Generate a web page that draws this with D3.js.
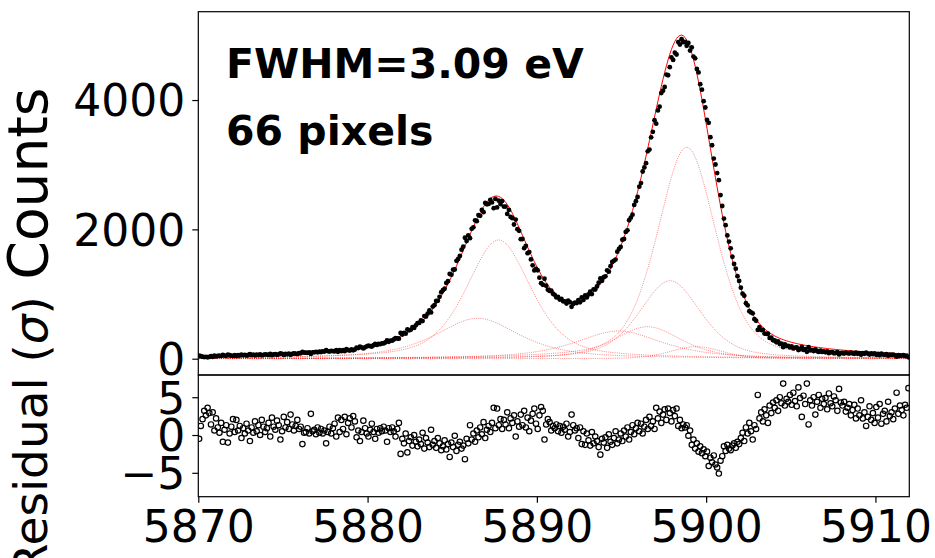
<!DOCTYPE html>
<html>
<head>
<meta charset="utf-8">
<script src="https://cdn.jsdelivr.net/npm/d3@7"></script>
<style>
  html, body { margin: 0; padding: 0; background: #fff; }
  svg { display: block; }
  text { font-family: "DejaVu Sans", sans-serif; fill: #000; }
</style>
</head>
<body>
<svg id="chart" width="935" height="558"></svg>
<script>
// Mn K-alpha line fit: seven Lorentzian components convolved with a Gaussian detector response
const gaussFWHM = 3.09;
const compCenter = [5898.853, 5897.867, 5894.829, 5896.532, 5899.417, 5887.743, 5886.495];
const compLorentzFWHM = [1.715, 2.043, 4.499, 2.663, 0.969, 2.361, 4.216];
const compHeight = [3270, 1205, 428, 495, 186, 1835, 625];

// Energy bins (eV): 0.1 eV wide, first bin centre and count
const binStart = 5870.05;
const binWidth = 0.1;
const binCount = 420;

// Normalised residuals, (model - counts) / sigma, one row per eV
const residuals = [
  -0.5, 1.2, 2.1, 3.2, 2.6, 3.6, 2.9, 1.4, 3.0, 0.6,
  2.2, 1.0, 0.3, 1.6, -0.9, 0.7, 1.3, -1.0, 0.2, 1.1,
  2.1, 0.4, 2.0, 0.6, 1.2, -0.4, 0.9, 0.2, 1.5, 0.6,
  -0.8, 1.0, 0.3, 1.8, 0.5, 1.3, 0.0, 2.0, 1.1, 0.4,
  0.9, 1.6, -0.2, 2.3, 1.1, 0.7, 1.9, 1.3, -0.6, 0.5,
  2.4, 1.0, 1.7, 0.8, 2.7, 1.4, 0.6, 1.2, 2.0, 0.8,
  1.1, -1.2, 0.3, 0.4, 0.9, 0.2, 2.8, 0.5, 0.7, 0.1,
  1.0, 0.3, 0.8, 0.2, 0.6, -1.1, 0.4, 1.1, 0.2, 0.9,
  1.5, -0.2, 2.3, 0.4, 2.0, 0.8, 2.4, 0.1, 1.6, 2.2,
  1.0, 2.5, 1.8, -0.3, 0.6, -0.8, 0.4, 1.9, 0.9, 0.2,
  -0.2, 0.7, 1.5, 0.4, -0.5, 0.8, 0.3, 0.9, 0.5, 1.1,
  0.6, -0.9, 0.9, 0.4, 1.0, 0.5, -0.2, 0.8, 1.6, -2.5,
  -0.5, -1.1, 0.2, -2.3, -0.8, -0.3, -1.4, 0.0, -0.9, -1.5,
  -0.6, -1.2, 0.3, -1.8, -0.4, -1.0, -1.6, 0.7, -1.3, -0.8,
  -1.7, -0.4, -1.1, -2.0, -1.5, -0.7, -1.9, -1.2, -2.9, -1.0,
  -1.6, -0.1, -2.1, -1.3, -0.9, -1.8, -1.4, -3.2, -0.5, -1.1,
  1.3, -0.6, 0.2, -0.9, 0.6, -0.3, 1.0, 0.1, 1.7, -0.4,
  0.7, 1.2, 0.4, 1.6, 3.6, 0.9, 3.5, 1.3, 2.1, 0.8,
  2.0, 1.4, 3.0, 0.9, 2.2, 1.6, 2.6, -0.2, 1.8, 1.1,
  2.7, 1.3, 3.2, 1.0, 2.3, 0.5, 1.9, 2.8, 3.5, 1.5,
  0.8, 2.6, 3.7, 3.2, -0.6, 1.4, 2.1, 1.7, 0.6, 1.2,
  0.9, 1.4, 0.5, 1.2, 0.3, 1.1, 0.7, 1.5, -0.2, 0.4,
  2.7, 1.3, 0.6, 0.9, -0.4, 1.0, -1.2, 0.5, -1.3, 0.2,
  -0.7, -1.4, 0.4, -1.1, -0.2, -0.8, -1.6, -2.6, -0.5, -1.0,
  -0.3, -1.7, 0.1, -0.9, -1.3, -0.4, 0.5, -1.1, -0.6, 0.2,
  -0.8, 0.6, -0.2, 1.0, -0.6, 0.4, 1.3, 0.1, 0.9, 1.6,
  0.5, 1.5, 0.2, 1.1, 2.0, 0.8, 2.4, 1.2, 1.8, 0.8,
  3.6, 2.2, 3.1, 1.6, 2.7, 3.4, 2.0, 3.5, 2.9, 1.8,
  3.3, 2.5, 3.5, 1.2, 2.0, 0.9, 1.4, 1.0, 1.3, -0.1,
  0.6, -1.3, -0.6, -1.8, -1.1, -2.2, -1.5, -2.4, -1.9, -2.8,
  -2.2, -4.1, -3.0, -3.6, -2.7, -3.9, -4.3, -5.1, -3.4, -2.8,
  -1.5, -2.1, -1.3, -1.8, -2.0, -1.4, -1.1, -1.7, -0.9, -1.2,
  -0.4, 0.3, -0.8, 1.0, 0.2, 1.6, 0.5, -0.6, 1.3, 0.8,
  5.3, 2.2, 3.0, 1.8, 3.4, 2.6, 1.6, 3.9, 2.9, 4.3,
  3.6, 4.6, 3.2, 5.0, 4.2, 6.8, 3.9, 4.8, 4.4, 5.3,
  4.0, 5.6, 4.5, 3.8, 6.3, 4.9, 2.4, 5.2, 4.1, 6.8,
  1.4, 4.6, 3.9, 5.0, 2.7, 4.4, 5.3, 3.6, 4.8, 4.1,
  4.9, 3.4, 5.5, 4.2, 3.8, 5.1, 4.6, 3.2, 6.1, 4.3,
  3.9, 4.4, 3.1, 3.6, 4.1, 2.6, 3.3, 4.0, 2.2, 3.5,
  2.6, 4.6, 2.2, 3.0, 1.2, 2.4, 3.8, 2.0, 2.9, 1.6,
  3.7, 2.3, 4.1, 1.5, 2.8, 3.2, 1.8, 4.4, 2.5, 3.0,
  2.1, 3.5, 5.6, 2.8, 3.9, 3.3, 2.6, 4.0, 3.6, 6.2
];

const xTicks = [5870, 5880, 5890, 5900, 5910];
const countTicks = [0, 2000, 4000];
const residTicks = [-5, 0, 5];
const annotation = ["FWHM=3.09 eV", "66 pixels"];

// ---- line-shape model (Thompson-Cox-Hastings pseudo-Voigt, unit peak height)
function voigtUnit(dx, fL, fG) {
  const f = Math.pow(
    Math.pow(fG, 5) + 2.69269 * Math.pow(fG, 4) * fL + 2.42843 * Math.pow(fG, 3) * fL * fL +
    4.47163 * fG * fG * Math.pow(fL, 3) + 0.07842 * fG * Math.pow(fL, 4) + Math.pow(fL, 5), 0.2);
  const r = fL / f;
  const eta = 1.36603 * r - 0.47719 * r * r + 0.11116 * r * r * r;
  const lor = x => (f / 2) / Math.PI / (x * x + (f / 2) * (f / 2));
  const gau = x => Math.sqrt(4 * Math.LN2 / Math.PI) / f * Math.exp(-4 * Math.LN2 * x * x / (f * f));
  const pv = x => eta * lor(x) + (1 - eta) * gau(x);
  return pv(dx) / pv(0);
}
const component = (k, e) => compHeight[k] * voigtUnit(e - compCenter[k], compLorentzFWHM[k], gaussFWHM);
const modelAt = e => d3.sum(compCenter, (c, k) => component(k, e));

// counts recovered from the model and the normalised residual of each bin
const energies = d3.range(binCount).map(i => binStart + i * binWidth);
const points = energies.map((e, i) => {
  const m = modelAt(e);
  return { e, model: m, resid: residuals[i], counts: m - residuals[i] * Math.sqrt(m) };
});

// ---- layout
const svg = d3.select("#chart");
const left = 198.3, right = 909.3;
const topY0 = 11.7, topY1 = 375, resY0 = 375, resY1 = 496.7;

const x = d3.scaleLinear().domain([5870, 5912]).range([left, right]);
const yC = d3.scaleLinear().domain([-252, 5366]).range([topY1, topY0]);
const yR = d3.scaleLinear().domain([-8.16, 7.94]).range([resY1, resY0]);

const defs = svg.append("defs");
defs.append("clipPath").attr("id", "clipTop").append("rect")
  .attr("x", left).attr("y", topY0).attr("width", right - left).attr("height", topY1 - topY0);
defs.append("clipPath").attr("id", "clipRes").append("rect")
  .attr("x", left).attr("y", resY0).attr("width", right - left).attr("height", resY1 - resY0);

// ---- upper panel
const gTop = svg.append("g").attr("clip-path", "url(#clipTop)");
const compLine = k => d3.line().x(e => x(e)).y(e => yC(component(k, e)));
const fine = d3.range(5869, 5913.01, 0.05);
compCenter.forEach((c, k) => {
  gTop.append("path").datum(fine).attr("d", compLine(k))
    .attr("fill", "none").attr("stroke", "rgba(255,0,0,0.55)")
    .attr("stroke-width", 0.9).attr("stroke-dasharray", "1,1.2");
});
gTop.append("path").datum(points)
  .attr("d", d3.line().x(d => x(d.e)).y(d => yC(d.model)))
  .attr("fill", "none").attr("stroke", "#ff0000").attr("stroke-width", 1);
gTop.selectAll("circle.data").data(points).join("circle")
  .attr("class", "data").attr("cx", d => x(d.e)).attr("cy", d => yC(d.counts))
  .attr("r", 2.4).attr("fill", "#000");

// ---- residual panel
const gRes = svg.append("g").attr("clip-path", "url(#clipRes)");
gRes.selectAll("circle").data(points).join("circle")
  .attr("cx", d => x(d.e)).attr("cy", d => yR(d.resid))
  .attr("r", 2.7).attr("fill", "none").attr("stroke", "#000").attr("stroke-width", 1.2);

// ---- frames
[[topY0, topY1], [resY0, resY1]].forEach(([a, b]) => {
  svg.append("rect").attr("x", left).attr("y", a).attr("width", right - left).attr("height", b - a)
    .attr("fill", "none").attr("stroke", "#000").attr("stroke-width", 1.2);
});

// ---- axes
const tickFont = 44;
const styleAxis = g => {
  g.select(".domain").remove();
  g.selectAll(".tick line").attr("stroke", "#000").attr("stroke-width", 1.2);
  g.selectAll(".tick text").attr("font-size", tickFont).attr("font-family", "DejaVu Sans");
};
svg.append("g").attr("transform", `translate(${left},0)`)
  .call(d3.axisLeft(yC).tickValues(countTicks).tickSize(6).tickPadding(7).tickFormat(d3.format("d")))
  .call(styleAxis).selectAll(".tick text").attr("dy", "0.36em");
svg.append("g").attr("transform", `translate(${left},0)`)
  .call(d3.axisLeft(yR).tickValues(residTicks).tickSize(6).tickPadding(7)
    .tickFormat(d => d < 0 ? "\u2212" + Math.abs(d) : String(d)))
  .call(styleAxis).selectAll(".tick text").attr("dy", "0.36em");
svg.append("g").attr("transform", `translate(0,${resY1})`)
  .call(d3.axisBottom(x).tickValues(xTicks).tickSize(6).tickPadding(6).tickFormat(d3.format("d")))
  .call(styleAxis).selectAll(".tick text").attr("dy", "0.76em");

// ---- axis labels
svg.append("text").attr("transform", "translate(47,183.5) rotate(-90)")
  .attr("text-anchor", "middle").attr("font-size", 55).text("Counts");
const rl = svg.append("text").attr("transform", "translate(47,436) rotate(-90)")
  .attr("text-anchor", "middle").attr("font-size", 47);
rl.append("tspan").text("Residual (");
rl.append("tspan").attr("font-style", "italic").text("\u03c3");
rl.append("tspan").text(")");
svg.append("text").attr("x", (left + right) / 2).attr("y", 602)
  .attr("text-anchor", "middle").attr("font-size", 53).text("Energy (eV)");

// ---- annotation
svg.selectAll("text.note").data(annotation).join("text")
  .attr("class", "note").attr("x", 226).attr("y", (d, i) => 78 + i * 67)
  .attr("font-size", 41).attr("font-weight", "bold").text(d => d);
</script>
</body>
</html>
